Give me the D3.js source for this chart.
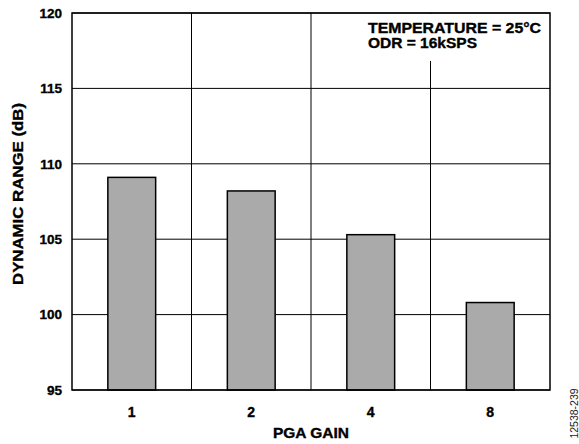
<!DOCTYPE html>
<html><head><meta charset="utf-8">
<script src="https://cdn.jsdelivr.net/npm/d3@7"></script>
<style>body{margin:0;background:#fff}svg{display:block}text{font-family:Arial,"Liberation Sans",sans-serif}</style>
</head><body><svg id="c" width="579" height="444"></svg>
<script>
const categories = ["1", "2", "4", "8"];
const values = [109.1, 108.2, 105.3, 100.8];
const yTicks = [95, 100, 105, 110, 115, 120];
const notes = ["TEMPERATURE = 25°C", "ODR = 16kSPS"];
const noteWidths = [173, 109];

const svg = d3.select("#c");
const L = 72, R = 550, T = 13, B = 390;
const x = d3.scaleBand().domain(categories).range([L, R]).paddingInner(0).paddingOuter(0);
const y = d3.scaleLinear().domain([95, 120]).range([B, T]);
const FONT = "Arial,'Liberation Sans',sans-serif";
const heavy = s => s.attr("stroke", "#000").attr("stroke-width", 0.35);

// horizontal gridlines
svg.append("g").selectAll("line").data(yTicks).join("line")
  .attr("x1", L).attr("x2", R).attr("y1", d => y(d)).attr("y2", d => y(d))
  .attr("stroke", "#000").attr("stroke-width", 1);
// vertical gridlines between categories
svg.append("g").selectAll("line").data(categories.slice(1)).join("line")
  .attr("x1", d => x(d)).attr("x2", d => x(d)).attr("y1", T).attr("y2", B)
  .attr("stroke", "#000").attr("stroke-width", 1);

// bars
const bw = x.bandwidth() * 0.4;
svg.append("g").selectAll("rect").data(values).join("rect")
  .attr("x", (d, i) => x(categories[i]) + x.bandwidth() / 2 - bw / 2)
  .attr("width", bw)
  .attr("y", d => y(d))
  .attr("height", d => B - y(d))
  .attr("fill", "#aaaaaa").attr("stroke", "#000").attr("stroke-width", 1.5);

// annotation box
svg.append("rect").attr("x", 364).attr("y", T + 1).attr("width", R - 365).attr("height", 47).attr("fill", "#fff");
svg.append("g").selectAll("text").data(notes).join("text")
  .attr("x", 368).attr("y", (d, i) => 32.5 + i * 15.5)
  .attr("font-size", 14.3).attr("font-weight", "bold")
  .attr("textLength", (d, i) => noteWidths[i]).attr("lengthAdjust", "spacingAndGlyphs")
  .call(heavy)
  .text(d => d);

// frame
svg.append("rect").attr("x", L).attr("y", T).attr("width", R - L).attr("height", B - T)
  .attr("fill", "none").attr("stroke", "#000").attr("stroke-width", 1.5);

// axes labels via d3 axes
const ya = svg.append("g").attr("transform", `translate(${L},0)`)
  .call(d3.axisLeft(y).tickValues(yTicks).tickSize(0).tickPadding(10));
ya.select(".domain").remove();
ya.selectAll("text").attr("font-size", 13.5).attr("font-weight", "bold").attr("fill", "#000").attr("font-family", FONT).call(heavy);

const xa = svg.append("g").attr("transform", `translate(0,${B})`)
  .call(d3.axisBottom(x).tickSize(0).tickPadding(17));
xa.select(".domain").remove();
xa.selectAll("text").attr("font-size", 14).attr("font-weight", "bold").attr("fill", "#000").attr("font-family", FONT).call(heavy);

svg.append("text").attr("x", (L + R) / 2).attr("y", 437.7).attr("text-anchor", "middle")
  .attr("font-size", 14).attr("font-weight", "bold")
  .attr("textLength", 76).attr("lengthAdjust", "spacingAndGlyphs").call(heavy).text("PGA GAIN");
svg.append("text").attr("transform", `translate(23.3,194) rotate(-90)`).attr("text-anchor", "middle")
  .attr("font-size", 14.5).attr("font-weight", "bold")
  .attr("textLength", 182).attr("lengthAdjust", "spacingAndGlyphs").call(heavy).text("DYNAMIC RANGE (dB)");
svg.append("text").attr("transform", `translate(577.5,413.5) rotate(-90)`).attr("text-anchor", "middle")
  .attr("font-size", 10.5).attr("fill", "#222").text("12538-239");
</script></body></html>
